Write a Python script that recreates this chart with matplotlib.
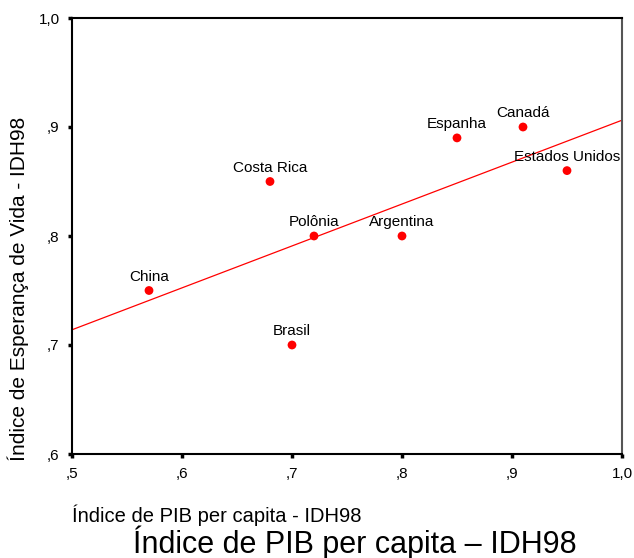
import numpy as np
import matplotlib.pyplot as plt

paises = ["China", "Costa Rica", "Brasil", "Polônia", "Argentina",
          "Espanha", "Canadá", "Estados Unidos"]
pib = [0.57, 0.68, 0.70, 0.72, 0.80, 0.85, 0.91, 0.95]
esperanca = [0.75, 0.85, 0.70, 0.80, 0.80, 0.89, 0.90, 0.86]

x_ticks = [0.5, 0.6, 0.7, 0.8, 0.9, 1.0]
x_tick_labels = [",5", ",6", ",7", ",8", ",9", "1,0"]
y_ticks = [0.6, 0.7, 0.8, 0.9, 1.0]
y_tick_labels = [",6", ",7", ",8", ",9", "1,0"]

plt.rcParams["font.family"] = ["Liberation Sans", "DejaVu Sans"]

fig = plt.figure(figsize=(6.34, 5.58), dpi=100)
ax = fig.add_axes([72 / 634, 104 / 558, 550 / 634, 436 / 558])

# reta de regressão
a, b = np.polyfit(pib, esperanca, 1)
xs = np.array([0.5, 1.0])
ax.plot(xs, a * xs + b, color="red", linewidth=0.9)

ax.scatter(pib, esperanca, s=40, color="red", zorder=3, edgecolors="none")
for nome, x, y in zip(paises, pib, esperanca):
    ax.annotate(nome, (x, y), xytext=(0, 5), textcoords="offset points",
                ha="center", va="bottom", fontsize=11)

ax.set_xlim(0.5, 1.0)
ax.set_ylim(0.6, 1.0)
ax.set_xticks(x_ticks)
ax.set_xticklabels(x_tick_labels)
ax.set_yticks(y_ticks)
ax.set_yticklabels(y_tick_labels)
ax.tick_params(direction="out", length=3, width=2.5, labelsize=11, pad=6)
for s in ax.spines.values():
    s.set_linewidth(1.5)
ax.spines["right"].set_color("#555555")

fig.text(18 / 634, 1 - 289 / 558, "Índice de Esperança de Vida - IDH98",
         rotation=90, ha="center", va="center", fontsize=15)
fig.text(72 / 634, 1 - 515 / 558, "Índice de PIB per capita - IDH98",
         ha="left", va="center", fontsize=14.5)
fig.text(355 / 634, 1 - 543 / 558, "Índice de PIB per capita – IDH98",
         ha="center", va="center", fontsize=22)

plt.savefig("out.png")
